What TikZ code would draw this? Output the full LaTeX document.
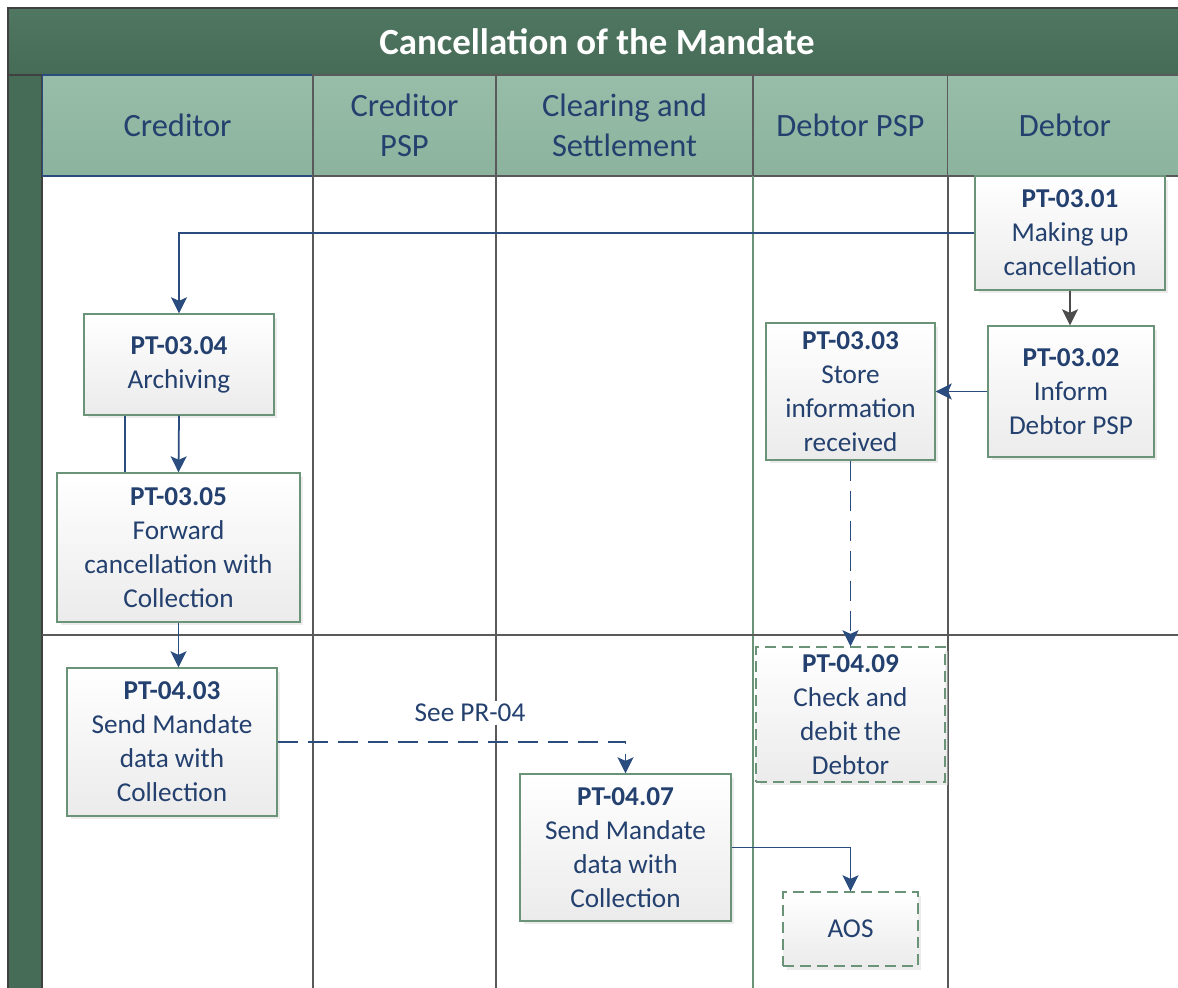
\documentclass[tikz,border=0pt]{standalone}
\usepackage{fontspec}
\setmainfont{Carlito}
\usepackage{xcolor}
\usepackage{tikz}
\usetikzlibrary{arrows.meta,shadows}
\definecolor{titletop}{HTML}{507762}
\definecolor{titlebot}{HTML}{466B56}
\definecolor{headtop}{HTML}{98BDA9}
\definecolor{headbot}{HTML}{8BB39D}
\definecolor{boxgreen}{HTML}{6A9378}
\definecolor{boxgray}{HTML}{EBEBEB}
\definecolor{textblue}{HTML}{23406E}
\definecolor{flowblue}{HTML}{2B4C7E}
\definecolor{lanegray}{HTML}{5A5A5A}

\begin{document}
\begin{tikzpicture}[y=-0.02cm,x=0.02cm,
	task/.style={draw=boxgreen, line width=0.8pt, top color=white, bottom color=boxgray, align=center, inner sep=1pt, text=textblue, font=\fontsize{15.5}{19.3}\selectfont, drop shadow={shadow xshift=0.07cm, shadow yshift=-0.07cm, fill=black!15}},
	ghost/.style={task, dash pattern=on 0.22cm off 0.12cm},
	lanehead/.style={draw=lanegray, line width=0.6pt, top color=headtop, bottom color=headbot, text=textblue, align=center, font=\fontsize{18.5}{23}\selectfont, inner sep=0pt, minimum height=2.02cm},
	flow/.style={draw=flowblue, line width=1pt, -{Stealth[length=0.32cm,width=0.32cm,inset=0.07cm]}},
	jump/.style={flow, dash pattern=on 0.4cm off 0.2cm}]
	\useasboundingbox (0,0) rectangle (1178,988);

	\fill[top color=titletop, bottom color=titlebot, draw=black!75, line width=0.8pt] (8,8) rectangle (1185,75);
	\node[font=\fontsize{21}{25}\selectfont\bfseries, text=white] (title) at (597,42) {Cancellation of the Mandate};
	\fill[titlebot, draw=black!75, line width=0.8pt] (8,75) rectangle (42,995);

	\node[lanehead, draw=flowblue, minimum width=5.42cm] (hcred) at (177.5,125.5) {Creditor};
	\node[lanehead, minimum width=3.66cm] (hcpsp) at (404.5,125.5) {Creditor\\PSP};
	\node[lanehead, minimum width=5.14cm] (hcsm) at (624.5,125.5) {Clearing and\\Settlement};
	\node[lanehead, minimum width=3.9cm] (hdpsp) at (850.5,125.5) {Debtor PSP};
	\node[lanehead, minimum width=4.7cm] (hdeb) at (1065,125.5) {Debtor};

	\draw[lanegray, line width=0.6pt] (313,176) -- (313,990);
	\draw[lanegray, line width=0.6pt] (496,176) -- (496,990);
	\draw[boxgreen, line width=0.8pt] (753,176) -- (753,990);
	\draw[lanegray, line width=0.6pt] (948,176) -- (948,990);
	\draw[lanegray, line width=1pt] (42,635) -- (1185,635);

	\node[task, minimum width=3.8cm, minimum height=2.28cm] (pt0301) at (1070,233) {\textbf{PT-03.01}\\Making up\\cancellation};
	\node[task, minimum width=3.32cm, minimum height=2.62cm] (pt0302) at (1071,391.5) {\textbf{PT-03.02}\\Inform\\Debtor PSP};
	\node[task, minimum width=3.38cm, minimum height=2.74cm] (pt0303) at (850.5,391.5) {\textbf{PT-03.03}\\Store\\information\\received};
	\node[task, minimum width=3.8cm, minimum height=2.02cm] (pt0304) at (179,364.5) {\textbf{PT-03.04}\\Archiving};
	\node[task, minimum width=4.86cm, minimum height=2.98cm] (pt0305) at (178.5,547.5) {\textbf{PT-03.05}\\Forward\\cancellation with\\Collection};
	\node[task, minimum width=4.2cm, minimum height=2.96cm] (pt0403) at (172,742) {\textbf{PT-04.03}\\Send Mandate\\data with\\Collection};
	\node[task, minimum width=4.22cm, minimum height=2.94cm] (pt0407) at (625.5,847.5) {\textbf{PT-04.07}\\Send Mandate\\data with\\Collection};
	\node[ghost, minimum width=3.78cm, minimum height=2.7cm] (pt0409) at (850.5,714.5) {\textbf{PT-04.09}\\Check and\\debit the\\Debtor};
	\node[ghost, minimum width=2.7cm, minimum height=1.48cm] (aos) at (850.5,929) {AOS};

	\draw[flow] (pt0301.west) -| (pt0304.north);
	\draw[flow, draw=black!70] (pt0301.south) -- (pt0301.south |- pt0302.north);
	\draw[flow] (pt0302.west) -- (pt0303.east);
	\draw[jump] (pt0303.south) -- (pt0409.north);
	\draw[flow] (pt0304.south) -- (pt0305.north);
	\draw[draw=flowblue, line width=1pt] (pt0304.south -| 125,0) -- (pt0305.north -| 125,0);
	\draw[flow] (pt0305.south) -- (pt0305.south |- pt0403.north);
	\draw[jump] (pt0403.east) -| (pt0407.north);
	\draw[flow] (pt0407.east) -| (aos.north);

	\node[fill=white, text=textblue, font=\fontsize{15.5}{18}\selectfont, inner sep=2pt] (seepr) at (470,713) {See PR-04};
\end{tikzpicture}
\end{document}
